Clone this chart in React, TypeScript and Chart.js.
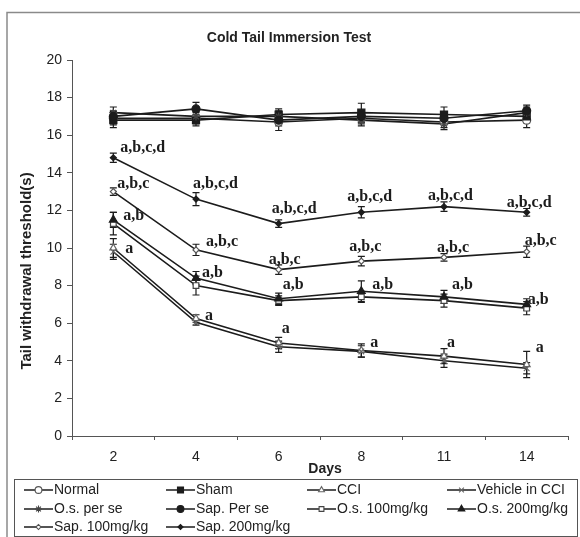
import React, { useEffect, useRef } from 'react';
import { Chart, registerables } from 'chart.js';
import { drawPoint } from 'chart.js/helpers';

Chart.register(...registerables);

// ---------- DATA ----------
const days = ['2', '4', '6', '8', '11', '14'];
const yTicksMin = 0;
const yTicksMax = 20;
const yTickStep = 2;

const normal = [16.9, 16.9, 16.7, 16.9, 16.7, 16.8];
const normalErr = [0.35, 0.3, 0.45, 0.3, 0.3, 0.4];
const sham = [16.8, 16.8, 17.1, 17.2, 17.1, 17.0];
const shamErr = [0.4, 0.3, 0.3, 0.5, 0.4, 0.35];
const cci = [10.0, 6.25, 4.95, 4.55, 4.25, 3.8];
const cciErr = [0.5, 0.2, 0.3, 0.35, 0.4, 0.7];
const vehicle = [9.8, 6.05, 4.75, 4.5, 4.0, 3.6];
const vehicleErr = [0.4, 0.15, 0.3, 0.3, 0.35, 0.3];
const osPerSe = [17.2, 17.0, 17.0, 16.8, 16.6, 17.2];
const osPerSeErr = [0.3, 0.3, 0.3, 0.3, 0.3, 0.3];
const sapPerSe = [17.0, 17.4, 16.8, 17.0, 16.9, 17.3];
const sapPerSeErr = [0.3, 0.35, 0.3, 0.3, 0.35, 0.3];
const os100 = [11.3, 8.0, 7.2, 7.4, 7.2, 6.8];
const os100Err = [0.6, 0.5, 0.25, 0.3, 0.35, 0.35];
const os200 = [11.5, 8.4, 7.3, 7.7, 7.4, 7.0];
const os200Err = [0.4, 0.35, 0.3, 0.55, 0.35, 0.3];
const sap100 = [13.0, 9.9, 8.85, 9.3, 9.5, 9.8];
const sap100Err = [0.2, 0.3, 0.25, 0.25, 0.2, 0.3];
const sap200 = [14.8, 12.6, 11.3, 11.9, 12.2, 11.9];
const sap200Err = [0.25, 0.35, 0.2, 0.3, 0.25, 0.2];

const labelsSap200 = ['a,b,c,d', 'a,b,c,d', 'a,b,c,d', 'a,b,c,d', 'a,b,c,d', 'a,b,c,d'];
const labelsSap100 = ['a,b,c', 'a,b,c', 'a,b,c', 'a,b,c', 'a,b,c', 'a,b,c'];
const labelsOs200 = ['a,b', 'a,b', 'a,b', 'a,b', 'a,b', 'a,b'];
const labelsCci = ['a', 'a', 'a', 'a', 'a', 'a'];

const chartTitle = 'Cold Tail Immersion Test';
const yTitle = 'Tail withdrawal threshold(s)';
const xTitle = 'Days';

// ---------- STYLE ----------
const INK = '#1c1c1c';
const SANS = '"Liberation Sans", Arial, sans-serif';
const SERIF = '"Liberation Serif", "Times New Roman", serif';

type SeriesDef = {
  label: string;
  values: number[];
  err: number[];
  style: string;
  radius: number;
  fill: string;
  stroke: string;
};

const series: SeriesDef[] = [
  { label: 'Normal', values: normal, err: normalErr, style: 'circle', radius: 4, fill: '#ffffff', stroke: '#555' },
  { label: 'Sham', values: sham, err: shamErr, style: 'rect', radius: 5, fill: INK, stroke: INK },
  { label: 'CCI', values: cci, err: cciErr, style: 'triangle', radius: 4, fill: '#ffffff', stroke: '#666' },
  { label: 'Vehicle in CCI', values: vehicle, err: vehicleErr, style: 'crossRot', radius: 4, fill: '#ffffff', stroke: '#666' },
  { label: 'O.s. per se', values: osPerSe, err: osPerSeErr, style: 'star', radius: 4, fill: '#ffffff', stroke: '#444' },
  { label: 'Sap. Per se', values: sapPerSe, err: sapPerSeErr, style: 'circle', radius: 4, fill: INK, stroke: INK },
  { label: 'O.s. 100mg/kg', values: os100, err: os100Err, style: 'rect', radius: 4, fill: '#ffffff', stroke: '#444' },
  { label: 'O.s. 200mg/kg', values: os200, err: os200Err, style: 'triangle', radius: 4.5, fill: INK, stroke: INK },
  { label: 'Sap. 100mg/kg', values: sap100, err: sap100Err, style: 'rectRot', radius: 3, fill: '#ffffff', stroke: '#555' },
  { label: 'Sap. 200mg/kg', values: sap200, err: sap200Err, style: 'rectRot', radius: 3, fill: INK, stroke: INK },
];

// annotation groups: anchored dataset index, texts, pixel offsets (left x, centre y)
const annotations = [
  { ds: 9, texts: labelsSap200, dx: [7, -3, -7, -14, -16, -20], dy: [-10, -15, -15, -15, -11, -9] },
  { ds: 8, texts: labelsSap100, dx: [4, 10, -10, -12, -7, -2], dy: [-8, -8, -10, -14, -10, -11] },
  { ds: 7, texts: labelsOs200, dx: [10, 6, 4, 11, 8, 1], dy: [-4, -5, -14, -6, -12, -5] },
  { ds: 2, texts: labelsCci, dx: [12, 9, 3, 9, 3, 9], dy: [1, -3, -14, -8, -13, -17] },
];

const legendCols = [24, 166, 307, 447];
const legendRows = [490, 509, 527];

const overlayPlugin = {
  id: 'overlay',
  beforeDraw(chart: any) {
    const ctx = chart.ctx;
    ctx.save();
    ctx.fillStyle = '#ffffff';
    ctx.fillRect(0, 0, chart.width, chart.height);
    ctx.restore();
  },
  afterDatasetsDraw(chart: any) {
    const ctx = chart.ctx;
    const yScale = chart.scales.y;
    ctx.save();
    ctx.strokeStyle = INK;
    ctx.lineWidth = 1.2;
    series.forEach((s, i) => {
      const meta = chart.getDatasetMeta(i);
      s.values.forEach((v, j) => {
        const pt = meta.data[j];
        if (!pt) return;
        const x = pt.x;
        const yt = yScale.getPixelForValue(v + s.err[j]);
        const yb = yScale.getPixelForValue(v - s.err[j]);
        ctx.beginPath();
        ctx.moveTo(x, yt);
        ctx.lineTo(x, yb);
        ctx.moveTo(x - 3.5, yt);
        ctx.lineTo(x + 3.5, yt);
        ctx.moveTo(x - 3.5, yb);
        ctx.lineTo(x + 3.5, yb);
        ctx.stroke();
      });
    });
    // markers above error bars
    series.forEach((s, i) => {
      const meta = chart.getDatasetMeta(i);
      meta.data.forEach((pt: any) => {
        ctx.fillStyle = s.fill;
        ctx.strokeStyle = s.stroke;
        ctx.lineWidth = 1.2;
        drawPoint(ctx, { pointStyle: s.style, radius: s.radius, rotation: 0, borderWidth: 1.2 } as any, pt.x, pt.y);
      });
    });
    // significance labels
    ctx.fillStyle = INK;
    ctx.font = `bold 16px ${SERIF}`;
    ctx.textAlign = 'left';
    ctx.textBaseline = 'middle';
    annotations.forEach((a) => {
      const meta = chart.getDatasetMeta(a.ds);
      a.texts.forEach((t, j) => {
        const pt = meta.data[j];
        if (!pt) return;
        ctx.fillText(t, pt.x + a.dx[j], pt.y + a.dy[j]);
      });
    });
    ctx.restore();
  },
  afterDraw(chart: any) {
    const ctx = chart.ctx;
    ctx.save();
    // outer frame (cropped on right / bottom)
    ctx.strokeStyle = '#8a8a8a';
    ctx.lineWidth = 1.5;
    ctx.beginPath();
    ctx.moveTo(7, chart.height);
    ctx.lineTo(7, 12.5);
    ctx.lineTo(chart.width, 12.5);
    ctx.stroke();

    // title
    ctx.fillStyle = '#222';
    ctx.font = `bold 14px ${SANS}`;
    ctx.textAlign = 'center';
    ctx.textBaseline = 'middle';
    ctx.fillText(chartTitle, 289, 38);

    // y title
    ctx.save();
    ctx.translate(27, 271);
    ctx.rotate(-Math.PI / 2);
    ctx.font = `bold 15px ${SANS}`;
    ctx.fillText(yTitle, 0, 0);
    ctx.restore();

    // x title
    ctx.font = `bold 14px ${SANS}`;
    ctx.fillText(xTitle, 325, 469);

    // legend box
    ctx.strokeStyle = '#555';
    ctx.lineWidth = 1;
    ctx.strokeRect(14.5, 479.5, 563, 57);
    ctx.font = `14px ${SANS}`;
    ctx.textAlign = 'left';
    ctx.textBaseline = 'middle';
    series.forEach((s, k) => {
      const x0 = legendCols[k % 4];
      const y0 = legendRows[Math.floor(k / 4)];
      ctx.strokeStyle = INK;
      ctx.lineWidth = 1.5;
      ctx.beginPath();
      ctx.moveTo(x0, y0);
      ctx.lineTo(x0 + 29, y0);
      ctx.stroke();
      ctx.fillStyle = s.fill;
      ctx.strokeStyle = s.stroke;
      ctx.lineWidth = 1.1;
      drawPoint(ctx, { pointStyle: s.style, radius: s.radius * 0.85, rotation: 0, borderWidth: 1.1 } as any, x0 + 14.5, y0);
      ctx.fillStyle = '#222';
      ctx.fillText(s.label, x0 + 30, y0 + 0.5);
    });
    ctx.restore();
  },
};

export default function App() {
  const ref = useRef<HTMLCanvasElement | null>(null);

  useEffect(() => {
    if (!ref.current) return;
    const chart = new Chart(ref.current, {
      type: 'line',
      data: {
        labels: days,
        datasets: series.map((s) => ({
          label: s.label,
          data: s.values,
          borderColor: INK,
          borderWidth: 1.6,
          pointStyle: s.style as any,
          pointRadius: 0,
          pointBackgroundColor: s.fill,
          pointBorderColor: s.stroke,
          fill: false,
          tension: 0,
        })),
      },
      options: {
        responsive: false,
        animation: false,
        events: [],
        layout: { padding: { left: 0, top: 60, right: 12, bottom: 0 } },
        plugins: {
          legend: { display: false },
          title: { display: false },
          tooltip: { enabled: false },
        },
        scales: {
          x: {
            type: 'category',
            offset: true,
            afterFit: (s: any) => {
              s.height = 101;
            },
            grid: { display: true, offset: true, drawOnChartArea: false, drawTicks: true, tickLength: 4, color: '#555' },
            border: { display: true, color: '#555', width: 1 },
            ticks: { color: '#222', font: { family: SANS, size: 14 }, padding: 9, maxRotation: 0 },
          },
          y: {
            min: yTicksMin,
            max: yTicksMax,
            afterFit: (s: any) => {
              s.width = 72;
            },
            grid: { display: true, drawOnChartArea: false, drawTicks: true, tickLength: 5, color: '#555' },
            border: { display: true, color: '#555', width: 1 },
            ticks: { stepSize: yTickStep, color: '#222', font: { family: SANS, size: 14 }, padding: 5 },
          },
        },
      },
      plugins: [overlayPlugin],
    });
    return () => chart.destroy();
  }, []);

  return (
    <div style={{ position: 'absolute', left: 0, top: 0, width: 580, height: 537 }}>
      <canvas ref={ref} width={580} height={537} style={{ display: 'block' }} />
    </div>
  );
}
